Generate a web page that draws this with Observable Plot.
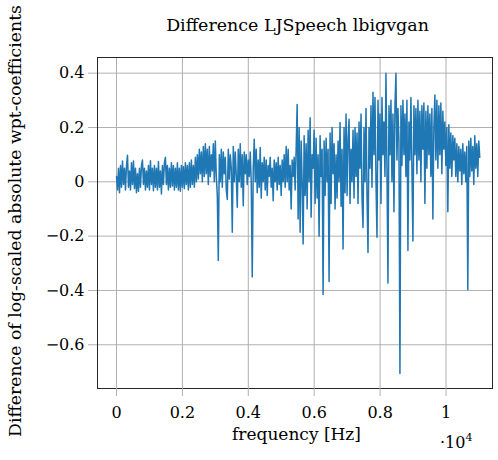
<!DOCTYPE html>
<html>
<head>
<meta charset="utf-8">
<script src="https://cdn.jsdelivr.net/npm/d3@7"></script>
<script src="https://cdn.jsdelivr.net/npm/@observablehq/plot@0.6"></script>
<style>
  html, body { margin: 0; padding: 0; background: white; }
  svg { display: block; }
</style>
</head>
<body>
<div id="chart"></div>
<script>
// Difference values, one per frequency bin, bins evenly spaced from 0 to 11025 Hz
const values = [
  0.02,-0.03,0.05,-0.04,0.06,-0.02,0.077,-0.01,0.05,-0.03,
  0.06,0.098,-0.02,0.04,-0.03,0.07,-0.01,0.077,-0.025,0.05,
  -0.04,0.03,-0.035,0.05,-0.02,0.06,0.08,-0.01,0.05,-0.03,
  0.04,-0.02,0.06,-0.03,0.078,-0.01,0.05,-0.033,0.06,-0.02,
  0.05,-0.03,0.075,-0.02,0.04,-0.045,0.06,-0.01,0.07,0.09,
  -0.01,0.06,-0.03,0.05,-0.02,0.07,-0.015,0.06,-0.03,0.05,
  -0.02,0.07,-0.03,0.05,-0.035,0.06,-0.02,0.055,-0.025,0.07,
  -0.01,0.06,-0.03,0.07,-0.02,0.08,-0.01,0.06,-0.02,0.09,
  0.0,0.1,0.01,0.12,0.03,0.11,0.0,0.13,0.02,0.14,
  0.03,0.12,-0.01,0.13,0.02,0.1,0.04,0.14,0.0,0.15,
  0.02,-0.05,-0.29,0.1,0.0,0.12,-0.02,0.11,0.03,0.09,
  -0.03,-0.065,0.12,0.01,0.1,0.05,-0.186,0.13,0.0,0.11,
  0.02,-0.094,0.12,0.0,0.14,-0.02,0.1,-0.088,0.11,0.03,
  0.1,-0.01,0.08,0.02,0.11,0.0,-0.35,0.05,0.157,0.0,
  0.12,-0.04,0.08,-0.02,0.126,-0.06,0.07,0.0,0.09,-0.03,
  0.08,-0.05,0.06,0.02,0.09,-0.02,0.05,-0.07,0.08,0.0,
  0.07,-0.03,0.09,-0.01,0.06,-0.05,0.08,0.0,0.1,-0.02,
  0.13,0.0,0.12,-0.03,0.06,-0.1,0.08,0.02,0.09,-0.03,
  0.12,0.285,-0.137,0.2,-0.186,0.15,0.0,-0.229,0.17,-0.05,
  0.14,-0.1,0.19,0.0,0.236,-0.13,0.1,0.05,0.19,-0.08,
  0.16,-0.06,0.1,-0.2,0.17,0.02,0.12,-0.415,0.15,-0.05,
  0.16,0.0,0.12,-0.367,0.18,-0.08,0.2,0.03,0.14,-0.1,
  0.1,-0.06,0.15,0.0,0.218,-0.09,0.12,-0.247,0.2,-0.04,
  0.25,-0.05,0.16,0.23,-0.08,0.12,0.0,0.19,-0.06,0.2,
  0.02,0.18,-0.08,0.22,0.05,0.25,-0.06,-0.168,0.2,0.0,
  0.27,-0.05,-0.26,0.2,0.05,0.28,-0.02,0.33,0.1,0.31,
  0.0,-0.204,0.3,0.08,0.25,-0.08,0.31,0.1,0.22,0.02,
  0.4,0.05,-0.373,0.28,0.1,0.3,0.0,0.25,-0.11,0.28,
  0.4,0.08,0.27,0.15,-0.706,0.28,0.06,0.3,0.1,0.25,
  0.02,0.3,-0.253,0.22,0.08,0.31,0.05,-0.218,0.28,0.1,
  0.27,0.03,0.3,0.08,0.26,0.0,0.28,0.12,0.29,-0.08,
  0.26,0.05,0.28,0.1,0.25,0.02,0.27,-0.137,0.2,0.32,
  0.08,0.3,0.05,0.28,0.1,0.29,0.03,0.26,0.12,0.22,
  0.06,0.2,-0.11,0.21,0.05,0.18,0.02,0.17,0.08,0.16,
  0.02,0.14,0.0,0.13,0.04,0.12,-0.01,0.14,0.03,0.11,
  0.0,0.13,-0.397,0.15,0.02,0.16,0.04,0.13,-0.01,0.17,
  0.05,0.14,0.02,0.15,0.09
];
const maxFreq = 11025;
const xTicks = [0, 2000, 4000, 6000, 8000, 10000];
const xTickLabels = ["0", "0.2", "0.4", "0.6", "0.8", "1"];
const yTicks = [-0.6, -0.4, -0.2, 0, 0.2, 0.4];
const yTickLabels = ["\u22120.6", "\u22120.4", "\u22120.2", "0", "0.2", "0.4"];
const title = "Difference LJSpeech lbigvgan";
const xLabel = "frequency [Hz]";
const yLabel = "Difference of log-scaled absolute wpt-coefficients";

const data = values.map((v, i) => ({f: i * maxFreq / (values.length - 1), v}));

const W = 498, H = 460;
const mL = 97, mR = 6, mT = 57, mB = 72;
const font = "'DejaVu Serif', serif";

const plot = Plot.plot({
  width: W, height: H,
  marginLeft: mL, marginRight: mR, marginTop: mT, marginBottom: mB,
  style: {fontFamily: font, fontSize: "16px", background: "white", color: "black"},
  x: {domain: [-577, 11411], label: null},
  y: {domain: [-0.761, 0.4577], label: null},
  marks: [
    Plot.gridX(xTicks, {stroke: "#b0b0b0", strokeOpacity: 1, strokeWidth: 1}),
    Plot.gridY(yTicks, {stroke: "#b0b0b0", strokeOpacity: 1, strokeWidth: 1}),
    Plot.line(data, {x: "f", y: "v", stroke: "#1f77b4", strokeWidth: 1.5}),
    Plot.frame({stroke: "#262626", strokeWidth: 1}),
    Plot.axisX(xTicks, {tickSize: 8, tickPadding: 10, stroke: "#b0b0b0", fill: "black",
      tickFormat: (d) => xTickLabels[xTicks.indexOf(d)], label: null}),
    Plot.axisY(yTicks, {tickSize: 9, tickPadding: 4, stroke: "#b0b0b0", fill: "black",
      tickFormat: (d) => yTickLabels[yTicks.indexOf(d)], label: null})
  ]
});
document.getElementById("chart").appendChild(plot);

const svg = d3.select(plot);
function addText(str, x, y, targetWidth, anchor, rotate) {
  const t = svg.append("text")
    .attr("transform", `translate(${x},${y})` + (rotate ? " rotate(-90)" : ""))
    .attr("text-anchor", anchor)
    .style("font-family", font).style("font-size", "16px").attr("fill", "black")
    .text(str);
  const len = t.node().getComputedTextLength();
  if (len > 0) t.style("font-size", (16 * targetWidth / len).toFixed(2) + "px");
  return t;
}
addText(title, 297.5, 31, 263, "middle", false);
addText(xLabel, 296.5, 440, 129, "middle", false);
addText(yLabel, 21, 221, 432, "middle", true);
const sc = svg.append("text").attr("transform", "translate(440,448)")
  .attr("text-anchor", "start")
  .style("font-family", font).style("font-size", "16px").attr("fill", "black");
sc.append("tspan").text("\u00b710");
sc.append("tspan").attr("dy", -7).style("font-size", "11px").text("4");
</script>
</body>
</html>
